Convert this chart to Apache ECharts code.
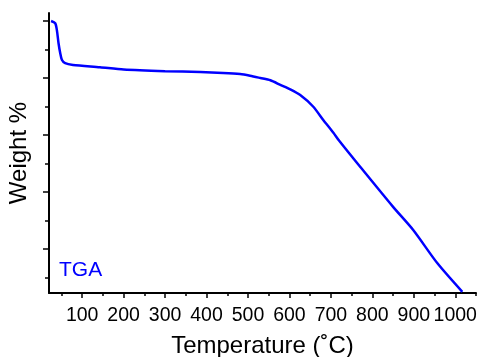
<!DOCTYPE html>
<html>
<head>
<meta charset="utf-8">
<script src="https://cdn.jsdelivr.net/npm/echarts@6/dist/echarts.min.js"></script>
<style>
  html, body { margin: 0; padding: 0; background: #fff; }
  #chart { width: 482px; height: 357px; }
</style>
</head>
<body>
<div id="chart"></div>
<script>
// TGA curve
var temperature = [25, 35, 39, 43, 47, 51, 59, 78, 143, 200, 300, 385, 440, 481, 505, 530, 554, 578, 602, 626, 657, 682, 706, 720, 771, 850, 899, 957, 1017];
var weight = [100, 99.6, 98.4, 96.1, 94.4, 93.2, 92.6, 92.3, 91.9, 91.5, 91.2, 91.05, 90.9, 90.7, 90.4, 90.0, 89.6, 88.8, 88.0, 87.0, 85.0, 82.6, 80.4, 79.0, 74.4, 67.4, 63.3, 57.5, 52.5];

// ticks
var xMajorTicks = [100, 200, 300, 400, 500, 600, 700, 800, 900, 1000];
var xMinorTicks = [50, 150, 250, 350, 450, 550, 650, 750, 850, 950, 1050];
var yMajorTicks = [60, 70, 80, 90, 100];
var yMinorTicks = [55, 65, 75, 85, 95];

var points = temperature.map(function (t, i) { return [t, weight[i]]; });

var font = 'Liberation Sans, Arial, sans-serif';
var black = '#000';

var chart = echarts.init(document.getElementById('chart'));
chart.setOption({
  animation: false,
  title: {
    text: 'TGA',
    left: 59,
    top: 260,
    padding: 0,
    textStyle: { color: '#0000ff', fontSize: 21, fontWeight: 'normal', fontFamily: font }
  },
  grid: { left: 49, right: 6, top: 13, bottom: 64, containLabel: false, outerBoundsMode: 'none' },
  xAxis: [
    {
      type: 'value',
      min: 20,
      max: 1050,
      name: 'Temperature (˚C)',
      nameLocation: 'middle',
      nameGap: 41,
      nameTextStyle: { color: black, fontSize: 24, fontFamily: font },
      axisLine: { show: true, onZero: false, lineStyle: { color: black, width: 2 } },
      axisTick: { show: true, customValues: xMajorTicks, length: 5, lineStyle: { color: black, width: 1.5 } },
      axisLabel: {
        show: true,
        customValues: xMajorTicks,
        margin: 13,
        color: black,
        fontSize: 19.5,
        fontFamily: font,
        formatter: function (v) { return String(v); }
      },
      splitLine: { show: false }
    },
    {
      type: 'value',
      min: 20,
      max: 1050,
      position: 'bottom',
      axisLine: { show: false },
      axisTick: { show: true, customValues: xMinorTicks, length: 3, lineStyle: { color: black, width: 1.5 } },
      axisLabel: { show: false },
      splitLine: { show: false }
    }
  ],
  yAxis: [
    {
      type: 'value',
      min: 52.3,
      max: 101.4,
      name: 'Weight %',
      nameLocation: 'middle',
      nameGap: 18,
      nameTextStyle: { color: black, fontSize: 24, fontFamily: font },
      axisLine: { show: true, onZero: false, lineStyle: { color: black, width: 2 } },
      axisTick: { show: true, customValues: yMajorTicks, length: 6, lineStyle: { color: black, width: 1.5 } },
      axisLabel: { show: false },
      splitLine: { show: false }
    },
    {
      type: 'value',
      min: 52.3,
      max: 101.4,
      position: 'left',
      axisLine: { show: false },
      axisTick: { show: true, customValues: yMinorTicks, length: 4, lineStyle: { color: black, width: 1.5 } },
      axisLabel: { show: false },
      splitLine: { show: false }
    }
  ],
  series: [
    {
      type: 'line',
      data: points,
      showSymbol: false,
      smooth: 0.25,
      lineStyle: { color: '#0000ff', width: 2.5 }
    }
  ]
});
</script>
</body>
</html>
